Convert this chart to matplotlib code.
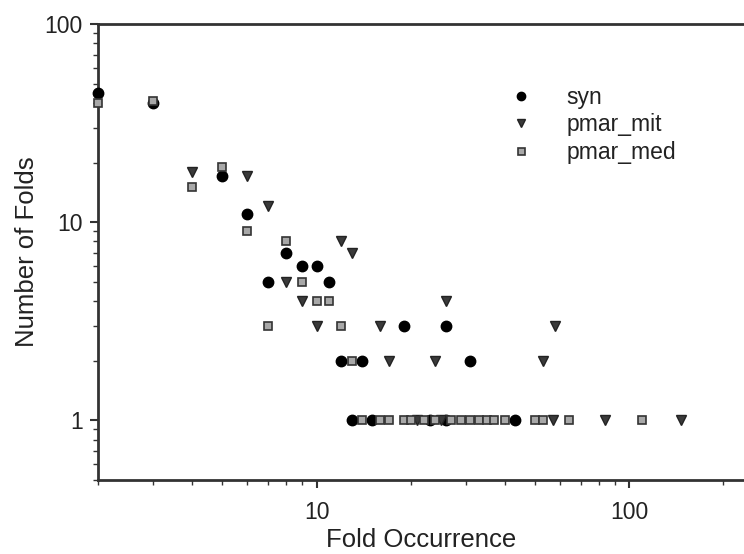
"""Fold occurrence vs number of folds (log-log scatter)."""
import matplotlib
matplotlib.use("Agg")
import matplotlib.pyplot as plt
from matplotlib.ticker import LogLocator, NullFormatter, FixedLocator, FixedFormatter

plt.rcParams["font.family"] = ["Liberation Sans", "DejaVu Sans"]

# syn
syn_x = [2, 3, 5, 6, 7, 8, 9, 10, 11, 12, 14, 19, 26, 31,
         13, 15, 23, 26, 43]
syn_y = [45, 40, 17, 11, 5, 7, 6, 6, 5, 2, 2, 3, 3, 2,
         1, 1, 1, 1, 1]

# pmar_mit
mit_x = [4, 6, 7, 8, 9, 10, 12, 13, 16, 17, 24, 26, 53, 58,
         21, 25, 57, 84, 146]
mit_y = [18, 17, 12, 5, 4, 3, 8, 7, 3, 2, 2, 4, 2, 3,
         1, 1, 1, 1, 1]

# pmar_med
med_x = [2, 3, 4, 5, 6, 7, 8, 9, 10, 11, 12, 13,
         14, 16, 17, 19, 20, 22, 24, 27, 29, 31, 33, 35, 37, 40, 50, 53, 64, 110]
med_y = [40, 41, 15, 19, 9, 3, 8, 5, 4, 4, 3, 2,
         1, 1, 1, 1, 1, 1, 1, 1, 1, 1, 1, 1, 1, 1, 1, 1, 1, 1]

fig = plt.figure(figsize=(7.44, 5.54), dpi=100)
ax = fig.add_axes([0.1317, 0.1336, 0.8683, 0.8231])

ax.plot(syn_x, syn_y, "o", color="black", markersize=7.5, linestyle="none",
        label="syn", clip_on=False, zorder=3)
ax.plot(mit_x, mit_y, "v", color="#3a3a3a", markeredgecolor="#222222", markersize=7.5,
        linestyle="none", label="pmar_mit", clip_on=False, zorder=3)
ax.plot(med_x, med_y, "s", color="#a8a8a8", markeredgecolor="#333333", markeredgewidth=1.2,
        markersize=6.3, linestyle="none", label="pmar_med", clip_on=False, zorder=3)

ax.set_xscale("log")
ax.set_yscale("log")
ax.set_xlim(2, 233)
ax.set_ylim(0.5, 100)

ax.xaxis.set_major_locator(FixedLocator([10, 100]))
ax.xaxis.set_major_formatter(FixedFormatter(["10", "100"]))
ax.xaxis.set_minor_locator(LogLocator(base=10, subs=range(2, 10), numticks=20))
ax.xaxis.set_minor_formatter(NullFormatter())
ax.yaxis.set_major_locator(FixedLocator([1, 10, 100]))
ax.yaxis.set_major_formatter(FixedFormatter(["1", "10", "100"]))
ax.yaxis.set_minor_locator(LogLocator(base=10, subs=range(2, 10), numticks=20))
ax.yaxis.set_minor_formatter(NullFormatter())

ax.tick_params(which="major", direction="out", length=6, width=1.5, color="#333333",
               labelsize=16.5, labelcolor="#222222")
ax.tick_params(axis="x", which="major", pad=9)
ax.tick_params(axis="y", which="major", pad=5)
ax.tick_params(which="minor", direction="out", length=3.5, width=1.0, color="#333333")
ax.tick_params(axis="x", which="both", top=False)
ax.tick_params(axis="y", which="both", right=False)

for side in ["left", "bottom", "top"]:
    ax.spines[side].set_linewidth(2)
    ax.spines[side].set_color("#333333")
ax.spines["right"].set_visible(False)

ax.set_xlabel("Fold Occurrence", fontsize=18.5, color="#222222", labelpad=3)
ax.set_ylabel("Number of Folds", fontsize=18.5, color="#222222", labelpad=4)

leg = ax.legend(loc="upper left", bbox_to_anchor=(0.597, 0.91), frameon=False,
                fontsize=16.5, handletextpad=1.2, labelspacing=0.2,
                markerscale=0.8, handlelength=1.5)
for t in leg.get_texts():
    t.set_color("#222222")

fig.savefig("out.png", dpi=100)
